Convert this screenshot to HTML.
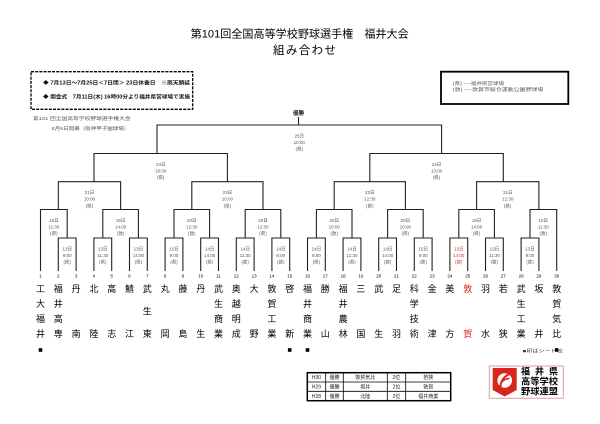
<!DOCTYPE html>
<html><head><meta charset="utf-8"><style>
html,body{margin:0;padding:0;background:#fff;}
svg{display:block;}
text{font-family:"Liberation Sans","Noto Sans CJK JP",sans-serif;}
.lb{font-size:4.5px;fill:#555;text-anchor:middle;}
.nm{font-size:9px;fill:#000;text-anchor:middle;}
.no{font-size:4.5px;fill:#000;text-anchor:middle;}
.tb{font-size:5px;fill:#222;text-anchor:middle;}
</style></head><body>
<svg width="600" height="424" viewBox="0 0 600 424" xmlns="http://www.w3.org/2000/svg">
<rect width="600" height="424" fill="#fff"/>
<!-- Title -->
<text x="190.7" y="37.5" font-size="11" textLength="218" lengthAdjust="spacingAndGlyphs" fill="#000">第101回全国高等学校野球選手権　福井大会</text>
<text x="273" y="54" font-size="11.5" textLength="63" lengthAdjust="spacing" fill="#000">組み合わせ</text>

<!-- dashed box -->
<rect x="31" y="71.7" width="161.7" height="37.6" fill="none" stroke="#000" stroke-width="1.3" stroke-dasharray="3 1.2"/>
<text x="43" y="84.5" font-size="5" font-weight="bold" textLength="147" lengthAdjust="spacingAndGlyphs" fill="#111">◆ 7月13日～7月25日＜7日間＞ 23日休養日　※雨天順延</text>
<text x="43" y="98.5" font-size="5" font-weight="bold" textLength="147" lengthAdjust="spacingAndGlyphs" fill="#111">◆ 開会式　7月11日(木) 16時00分より福井県営球場で実施</text>

<text x="33" y="120" font-size="4.5" textLength="97.7" lengthAdjust="spacingAndGlyphs" fill="#555">第101 回全国高等学校野球選手権大会</text>
<text x="51.7" y="129.8" font-size="4.5" textLength="77.6" lengthAdjust="spacingAndGlyphs" fill="#555">8月6日開幕（阪神甲子園球場）</text>

<!-- right legend box -->
<rect x="441" y="71.7" width="127.3" height="32.3" fill="none" stroke="#000" stroke-width="1.8"/>
<text x="452.7" y="85" font-size="4.5" textLength="51.3" lengthAdjust="spacingAndGlyphs" fill="#555">(県) ----福井県営球場</text>
<text x="452.7" y="91" font-size="4.5" textLength="90.6" lengthAdjust="spacingAndGlyphs" fill="#555">(敦) ----敦賀市総合運動公園野球場</text>

<!-- 優勝 -->
<text x="298.5" y="115" font-size="5.5" font-weight="bold" text-anchor="middle" fill="#111">優勝</text>

<!-- bracket lines -->
<path fill="none" stroke="#222" stroke-width="1.1" d="
M298.5,117V125
M157,153.5V125H441.6V153.5
M94,181.7V153.5H227.4V181.7
M369.8,181.7V153.5H503.3V181.7
M58.3,209.5V181.7H120.6V209.5
M191.8,209.5V181.7H263V209.5
M334.2,209.5V181.7H405.4V209.5
M476.6,209.5V181.7H538.9V209.5
M40.5,271V209.5H67.2V238
M102.8,238V209.5H138.4V238
M174,238V209.5H209.6V238
M245.2,238V209.5H280.8V238
M316.4,238V209.5H352V238
M387.6,238V209.5H423.2V238
M458.8,238V209.5H494.4V238
M530,238V209.5H556.7V271
M58.3,271V238H76.1V271
M93.9,271V238H111.7V271
M129.5,271V238H147.3V271
M165.1,271V238H182.9V271
M200.7,271V238H218.5V271
M236.3,271V238H254.1V271
M271.9,271V238H289.7V271
M307.5,271V238H325.3V271
M343.1,271V238H360.9V271
M378.7,271V238H396.5V271
M414.3,271V238H432.1V271
M449.9,271V238H467.7V271
M485.5,271V238H503.3V271
M521.1,271V238H538.9V271
"/>

<!-- final label -->
<text class="lb" x="299.3" y="137.3">25日</text><text class="lb" x="299.3" y="143.9">10:00</text><text class="lb" x="299.3" y="150.6">(県)</text>
<!-- R4 -->
<text class="lb" x="160.7" y="165.8">24日</text><text class="lb" x="160.7" y="172.4">10:00</text><text class="lb" x="160.7" y="179.1">(県)</text>
<text class="lb" x="436.5" y="165.8">24日</text><text class="lb" x="436.5" y="172.4">13:00</text><text class="lb" x="436.5" y="179.1">(県)</text>
<!-- R3 -->
<text class="lb" x="89.5" y="194">21日</text><text class="lb" x="89.5" y="200.6">10:00</text><text class="lb" x="89.5" y="207.3">(県)</text>
<text class="lb" x="227.4" y="194">23日</text><text class="lb" x="227.4" y="200.6">10:00</text><text class="lb" x="227.4" y="207.3">(県)</text>
<text class="lb" x="369.8" y="194">22日</text><text class="lb" x="369.8" y="200.6">12:30</text><text class="lb" x="369.8" y="207.3">(県)</text>
<text class="lb" x="507.7" y="194">21日</text><text class="lb" x="507.7" y="200.6">12:30</text><text class="lb" x="507.7" y="207.3">(県)</text>
<!-- R2 -->
<text class="lb" x="53.9" y="221.8">15日</text><text class="lb" x="53.9" y="228.4">11:30</text><text class="lb" x="53.9" y="235.1">(県)</text>
<text class="lb" x="120.6" y="221.8">15日</text><text class="lb" x="120.6" y="228.4">14:00</text><text class="lb" x="120.6" y="235.1">(敦)</text>
<text class="lb" x="191.8" y="221.8">20日</text><text class="lb" x="191.8" y="228.4">12:30</text><text class="lb" x="191.8" y="235.1">(敦)</text>
<text class="lb" x="263" y="221.8">20日</text><text class="lb" x="263" y="228.4">12:30</text><text class="lb" x="263" y="235.1">(県)</text>
<text class="lb" x="334.2" y="221.8">20日</text><text class="lb" x="334.2" y="228.4">10:00</text><text class="lb" x="334.2" y="235.1">(敦)</text>
<text class="lb" x="405.4" y="221.8">20日</text><text class="lb" x="405.4" y="228.4">10:00</text><text class="lb" x="405.4" y="235.1">(県)</text>
<text class="lb" x="476.6" y="221.8">15日</text><text class="lb" x="476.6" y="228.4">14:00</text><text class="lb" x="476.6" y="235.1">(県)</text>
<text class="lb" x="543.3" y="221.8">15日</text><text class="lb" x="543.3" y="228.4">11:30</text><text class="lb" x="543.3" y="235.1">(敦)</text>
<!-- R1 -->
<text class="lb" x="67.2" y="250.3">13日</text><text class="lb" x="67.2" y="256.9">9:00</text><text class="lb" x="67.2" y="263.6">(県)</text>
<text class="lb" x="102.8" y="250.3">13日</text><text class="lb" x="102.8" y="256.9">11:30</text><text class="lb" x="102.8" y="263.6">(県)</text>
<text class="lb" x="138.4" y="250.3">13日</text><text class="lb" x="138.4" y="256.9">14:00</text><text class="lb" x="138.4" y="263.6">(県)</text>
<text class="lb" x="174" y="250.3">15日</text><text class="lb" x="174" y="256.9">9:00</text><text class="lb" x="174" y="263.6">(県)</text>
<text class="lb" x="209.6" y="250.3">14日</text><text class="lb" x="209.6" y="256.9">14:00</text><text class="lb" x="209.6" y="263.6">(県)</text>
<text class="lb" x="245.2" y="250.3">14日</text><text class="lb" x="245.2" y="256.9">11:30</text><text class="lb" x="245.2" y="263.6">(敦)</text>
<text class="lb" x="280.8" y="250.3">14日</text><text class="lb" x="280.8" y="256.9">9:00</text><text class="lb" x="280.8" y="263.6">(敦)</text>
<text class="lb" x="316.4" y="250.3">14日</text><text class="lb" x="316.4" y="256.9">9:00</text><text class="lb" x="316.4" y="263.6">(県)</text>
<text class="lb" x="352" y="250.3">14日</text><text class="lb" x="352" y="256.9">11:30</text><text class="lb" x="352" y="263.6">(県)</text>
<text class="lb" x="387.6" y="250.3">14日</text><text class="lb" x="387.6" y="256.9">14:00</text><text class="lb" x="387.6" y="263.6">(敦)</text>
<text class="lb" x="423.2" y="250.3">15日</text><text class="lb" x="423.2" y="256.9">9:00</text><text class="lb" x="423.2" y="263.6">(敦)</text>
<text class="lb" x="458.8" y="250.3" style="fill:#c33">13日</text><text class="lb" x="458.8" y="256.9" style="fill:#c33">14:00</text><text class="lb" x="458.8" y="263.6" style="fill:#c33">(敦)</text>
<text class="lb" x="494.4" y="250.3">13日</text><text class="lb" x="494.4" y="256.9">11:30</text><text class="lb" x="494.4" y="263.6">(敦)</text>
<text class="lb" x="530" y="250.3">13日</text><text class="lb" x="530" y="256.9">9:00</text><text class="lb" x="530" y="263.6">(敦)</text>

<!-- team numbers -->
<text class="no" y="277.6" x="40.5 58.3 76.1 93.9 111.7 129.5 147.3 165.1 182.9">123456789</text>
<text class="no" y="277.6" x="200.7">10</text><text class="no" y="277.6" x="218.5">11</text><text class="no" y="277.6" x="236.3">12</text><text class="no" y="277.6" x="254.1">13</text><text class="no" y="277.6" x="271.9">14</text><text class="no" y="277.6" x="289.7">15</text><text class="no" y="277.6" x="307.5">16</text><text class="no" y="277.6" x="325.3">17</text><text class="no" y="277.6" x="343.1">18</text><text class="no" y="277.6" x="360.9">19</text><text class="no" y="277.6" x="378.7">20</text><text class="no" y="277.6" x="396.5">21</text><text class="no" y="277.6" x="414.3">22</text><text class="no" y="277.6" x="432.1">23</text><text class="no" y="277.6" x="449.9">24</text><text class="no" y="277.6" x="467.7">25</text><text class="no" y="277.6" x="485.5">26</text><text class="no" y="277.6" x="503.3">27</text><text class="no" y="277.6" x="521.1">28</text><text class="no" y="277.6" x="538.9">29</text><text class="no" y="277.6" x="556.7">30</text>

<!-- team names row 1 -->
<text class="nm" y="291.8" x="40.5 58.3 76.1 93.9 111.7 129.5 147.3 165.1 182.9 200.7 218.5 236.3 254.1 271.9 289.7 307.5 325.3 343.1 360.9 378.7 396.5 414.3 432.1 449.9">工福丹北高鯖武丸藤丹武奥大敦啓福勝福三武足科金美</text>
<text class="nm" y="291.8" x="467.7" style="fill:#d22">敦</text>
<text class="nm" y="291.8" x="485.5 503.3 521.1 538.9 556.7">羽若武坂敦</text>
<!-- row 2 -->
<text class="nm" y="307" x="40.5 58.3 218.5 236.3 271.9 307.5 343.1 414.3 521.1 556.7">大井生越賀井井学生賀</text>
<!-- row 3 -->
<text class="nm" y="322" x="40.5 58.3 218.5 236.3 271.9 307.5 343.1 414.3 521.1 556.7">福高商明工商農技工気</text>
<!-- middle for 武生東 -->
<text class="nm" y="314.5" x="147.3">生</text>
<!-- row 4 -->
<text class="nm" y="336.8" x="40.5 58.3 76.1 93.9 111.7 129.5 147.3 165.1 182.9 200.7 218.5 236.3 254.1 271.9 289.7 307.5 325.3 343.1 360.9 378.7 396.5 414.3 432.1 449.9">井専南陸志江東岡島生業成野業新業山林国生羽術津方</text>
<text class="nm" y="336.8" x="467.7" style="fill:#d22">賀</text>
<text class="nm" y="336.8" x="485.5 503.3 521.1 538.9 556.7">水狭業井比</text>

<!-- seed marks -->
<rect x="38.7" y="348.2" width="3.6" height="3.6" fill="#000"/>
<rect x="287.9" y="348.2" width="3.6" height="3.6" fill="#000"/>
<rect x="305.7" y="348.2" width="3.6" height="3.6" fill="#000"/>
<rect x="554.9" y="348.2" width="3.6" height="3.6" fill="#000"/>
<text x="522.7" y="352.7" font-size="4.5" textLength="40" lengthAdjust="spacingAndGlyphs" fill="#333">■印はシード校</text>

<!-- table -->
<g stroke="#000" fill="none">
<rect x="307.3" y="372.7" width="143.4" height="28" stroke-width="1.5"/>
<path stroke-width="0.8" d="M307.3,382H450.7M307.3,391.3H450.7M325.7,372.7V400.7M343.3,372.7V400.7M387.3,372.7V400.7M405.7,372.7V400.7"/>
</g>
<text class="tb" x="316.5" y="379.1">H30</text><text class="tb" x="334.5" y="379.1">優勝</text><text class="tb" x="365.3" y="379.1">敦賀気比</text><text class="tb" x="396.5" y="379.1">2位</text><text class="tb" x="428.2" y="379.1">若狭</text>
<text class="tb" x="316.5" y="388.5">H29</text><text class="tb" x="334.5" y="388.5">優勝</text><text class="tb" x="365.3" y="388.5">坂井</text><text class="tb" x="396.5" y="388.5">2位</text><text class="tb" x="428.2" y="388.5">敦賀</text>
<text class="tb" x="316.5" y="397.8">H28</text><text class="tb" x="334.5" y="397.8">優勝</text><text class="tb" x="365.3" y="397.8">北陸</text><text class="tb" x="396.5" y="397.8">2位</text><text class="tb" x="428.2" y="397.8">福井商業</text>

<!-- logo -->
<rect x="489.3" y="366" width="74" height="32.3" fill="#fff" stroke="#e39a9a" stroke-width="1"/>
<path d="M492.7,368H516.7V390L504.7,396.5L492.7,390Z" fill="#d9261c"/>
<circle cx="504.7" cy="380.5" r="7.3" fill="#fff"/>
<path d="M500.5,387 Q500.8,378 509.5,374" fill="none" stroke="#d9261c" stroke-width="2"/>
<path d="M502.5,381.5 Q505,378.5 509.5,378.5" fill="none" stroke="#d9261c" stroke-width="1.6"/>
<text x="521" y="374.5" font-size="9" font-weight="bold" textLength="37" lengthAdjust="spacing" fill="#000">福井県</text>
<text x="521" y="384.5" font-size="9" font-weight="bold" textLength="37" lengthAdjust="spacingAndGlyphs" fill="#000">高等学校</text>
<text x="521" y="394.5" font-size="9" font-weight="bold" textLength="37" lengthAdjust="spacingAndGlyphs" fill="#000">野球連盟</text>
</svg>
</body></html>
